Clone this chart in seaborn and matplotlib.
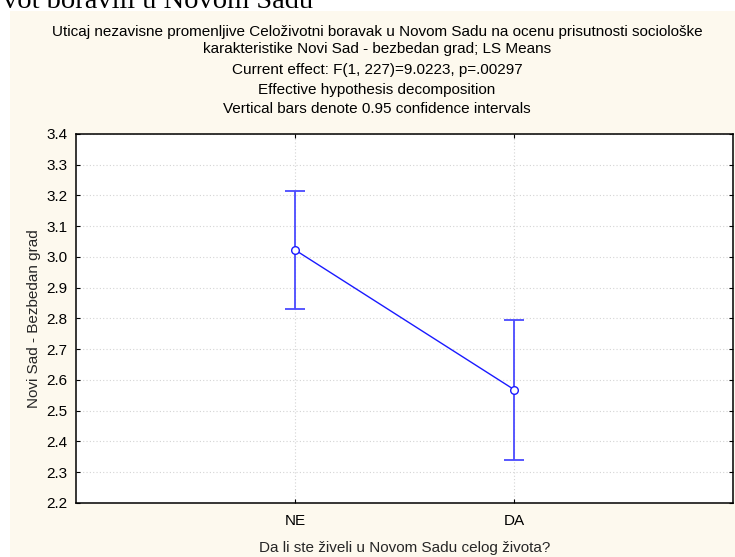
import numpy as np
import pandas as pd
import matplotlib
matplotlib.use("Agg")
import matplotlib.pyplot as plt
from matplotlib.patches import Rectangle
import seaborn as sns

# LS means with 0.95 confidence limits
categories = ["NE", "DA"]
means = [3.023, 2.569]
ci_low = [2.831, 2.340]
ci_high = [3.215, 2.796]
y_ticks = [2.2, 2.3, 2.4, 2.5, 2.6, 2.7, 2.8, 2.9, 3.0, 3.1, 3.2, 3.3, 3.4]

title_lines = [
    "Uticaj nezavisne promenljive Celoživotni boravak u Novom Sadu na ocenu prisutnosti sociološke",
    "karakteristike Novi Sad - bezbedan grad; LS Means",
    "Current effect: F(1, 227)=9.0223, p=.00297",
    "Effective hypothesis decomposition",
    "Vertical bars denote 0.95 confidence intervals",
]
x_label = "Da li ste živeli u Novom Sadu celog života?"
y_label = "Novi Sad - Bezbedan grad"
caption_tail = "vot boravili u Novom Sadu"

sns.set_style("ticks")
plt.rcParams["font.family"] = ["Liberation Sans", "DejaVu Sans"]

W, H = 735, 557
fig = plt.figure(figsize=(W / 100, H / 100), dpi=100, facecolor="white")

def fx(px):
    return px / W

def fy(py):
    return 1 - py / H

# cream panel behind the graph
fig.patches.append(Rectangle((fx(10), 0), 1 - fx(10), fy(11), transform=fig.transFigure,
                             facecolor="#fdf9ee", edgecolor="none", zorder=-5))

# clipped caption line from the document above the graph
fig.text(fx(313), fy(7.5), caption_tail, ha="right", va="baseline",
         fontsize=20.5, family=["Liberation Serif", "DejaVu Serif"], color="black")

for txt, yc in zip(title_lines, [31.7, 49.3, 70, 90, 109.3]):
    fig.text(fx(377), fy(yc), txt, ha="center", va="center", fontsize=11, color="black")

ax = fig.add_axes([fx(76), fy(503), fx(733) - fx(76), fy(134) - fy(503)])
ax.set_zorder(2)
ax.set_facecolor("white")

df = pd.DataFrame({"group": categories, "mean": means, "lo": ci_low, "hi": ci_high})
err = np.array([df["mean"] - df["lo"], df["hi"] - df["mean"]])

ax.errorbar(np.arange(len(df)), df["mean"], yerr=err, fmt="none", ecolor="#4a4aff",
            elinewidth=1.3, capsize=7.5, capthick=1.3, zorder=3)

sns.pointplot(data=df, x="group", y="mean", errorbar=None, color="#1a1aff", ax=ax,
              markers="o", linestyles="-", linewidth=1.0, markersize=5.5,
              markerfacecolor="white", markeredgecolor="#1a1aff", markeredgewidth=1.0,
              zorder=4)

ax.set_xlim(-1, 2)
ax.set_ylim(2.2, 3.4)
ax.set_yticks(y_ticks)
ax.set_yticklabels([f"{v:.1f}" for v in y_ticks])
ax.grid(True, linestyle=(0, (1, 2)), color="#d4d4d4", linewidth=0.8)
ax.set_axisbelow(True)

for s in ax.spines.values():
    s.set_visible(True)
    s.set_color("black")
    s.set_linewidth(1.1)

ax.tick_params(axis="both", direction="in", length=3, width=0.8, top=True, right=True,
               labelsize=11, colors="black", pad=6)
ax.tick_params(axis="x", pad=8)
ax.set_xlabel(x_label, fontsize=11, labelpad=9)
ax.set_ylabel(y_label, fontsize=11, labelpad=4)

fig.savefig("out.png", dpi=100, facecolor="white")
